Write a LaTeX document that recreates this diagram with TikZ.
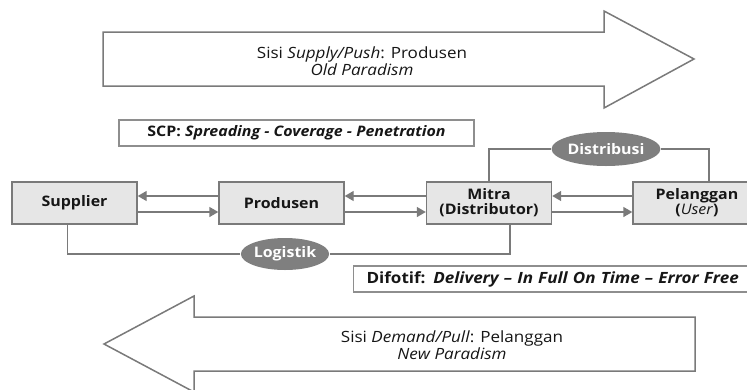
\documentclass[tikz,border=0pt]{standalone}
\usepackage{fontspec}
\setmainfont{Open Sans}[FakeStretch=1.1]
\usetikzlibrary{arrows.meta,shapes.geometric}
\definecolor{boxgray}{HTML}{E6E6E6}
\definecolor{linegray}{HTML}{7A7A7A}
\definecolor{ovalgray}{HTML}{7F7F7F}
\definecolor{textgray}{HTML}{161616}
\newcommand{\picfont}{\fontsize{14.5}{15}\selectfont}

\begin{document}
\begin{tikzpicture}[x=1pt, y=-1pt, line width=1.4pt, font=\picfont, text=textgray,
            box/.style={draw=linegray, fill=boxgray, minimum width=125pt, minimum height=42pt, align=center, font=\picfont\bfseries},
            oval/.style={ellipse, fill=ovalgray, text=white, inner sep=0pt, font=\picfont\bfseries},
            frame/.style={draw=linegray!85, line width=1.1pt, minimum height=26pt, inner xsep=5pt},
            bigarrow/.style={draw=linegray, line width=1.5pt, fill=white, line join=miter},
            flow/.style={draw=linegray, -{Triangle[length=9pt,width=10pt]}},
            link/.style={draw=linegray}]{
            \useasboundingbox (0,0) rectangle (747,389);
            \clip (0,0) rectangle (747,389);
            \path[bigarrow] (103,32) -- (604,32) -- (604,11) -- (694,59) -- (604,108) -- (604,86) -- (103,86) -- cycle;
            \path[bigarrow] (104,344) -- (194,296) -- (194,317) -- (695,317) -- (695,371) -- (194,371) -- (194,392) -- cycle;
            \node [align=center, font=\fontsize{15.5}{15}\selectfont] (push) at (362,61) {Sisi \textit{Supply/Push}: Produsen\\\textit{Old Paradism}};
            \node [align=center, font=\fontsize{15.5}{15}\selectfont] (pull) at (452,345) {Sisi \textit{Demand/Pull}: Pelanggan\\\textit{New Paradism}};
            \node [frame, minimum width=355pt] (scp) at (296.5,133) {\textbf{SCP: \textit{Spreading - Coverage - Penetration}}};
            \node [frame, anchor=west, inner xsep=13pt, text width=390pt, align=left, font=\fontsize{15.5}{15}\selectfont] (difot) at (353,279) {\textbf{Difotif: \textit{Delivery -- In Full On Time -- Error Free}}};
            \node [box] (sup) at (74.5,203) {Supplier};
            \node [box] (prod) at (281.5,203) {Produsen};
            \node [box] (mitra) at (489,203) {Mitra\\(Distributor)};
            \node [box, minimum width=128pt] (pel) at (697,203) {Pelanggan\\(\textit{\mdseries User})};
            \node [oval, minimum width=88pt, minimum height=32pt] (log) at (285,254) {Logistik};
            \node [oval, minimum width=107pt, minimum height=34pt] (dist) at (606,149) {Distribusi};
            \path[flow] ([yshift=7pt]prod.west) -- ([yshift=7pt]sup.east);
            \path[flow] ([yshift=-9pt]sup.east) -- ([yshift=-9pt]prod.west);
            \path[flow] ([yshift=7pt]mitra.west) -- ([yshift=7pt]prod.east);
            \path[flow] ([yshift=-9pt]prod.east) -- ([yshift=-9pt]mitra.west);
            \path[flow] ([yshift=7pt]pel.west) -- ([yshift=7pt]mitra.east);
            \path[flow] ([yshift=-9pt]mitra.east) -- ([yshift=-9pt]pel.west);
            \path[link] ([xshift=-7pt]sup.south) |- (log.west);
            \path[link] (log.east) -| ([xshift=21pt]mitra.south);
            \path[link] (mitra.north) |- (dist.west);
            \path[link] (dist.east) -| ([xshift=12pt]pel.north);
        }
        \end{tikzpicture}
\end{document}
